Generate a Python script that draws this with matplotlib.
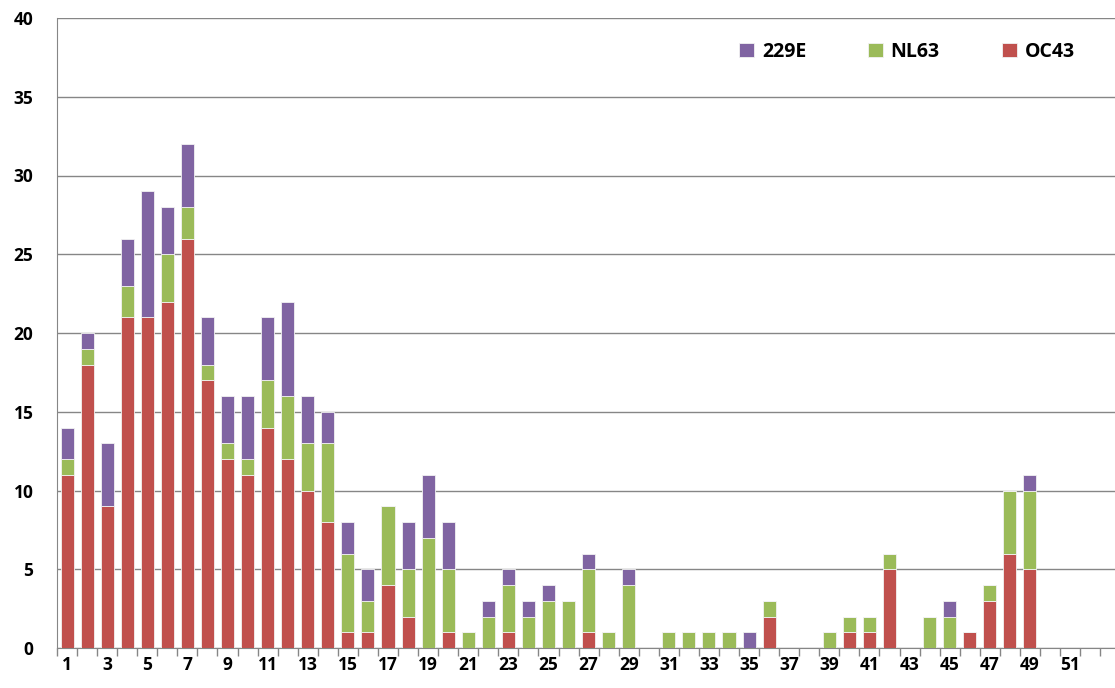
import matplotlib
matplotlib.use("Agg")
import matplotlib.pyplot as plt
import numpy as np
from matplotlib.ticker import FixedLocator

weeks = list(range(1, 54))
oc43 = [11, 18, 9, 21, 21, 22, 26, 17, 12, 11, 14, 12, 10, 8, 1, 1, 4, 2, 0, 1,
        0, 0, 1, 0, 0, 0, 1, 0, 0, 0, 0, 0, 0, 0, 0, 2, 0, 0, 0, 1,
        1, 5, 0, 0, 0, 1, 3, 6, 5, 0, 0, 0, 0]
nl63 = [1, 1, 0, 2, 0, 3, 2, 1, 1, 1, 3, 4, 3, 5, 5, 2, 5, 3, 7, 4,
        1, 2, 3, 2, 3, 3, 4, 1, 4, 0, 1, 1, 1, 1, 0, 1, 0, 0, 1, 1,
        1, 1, 0, 2, 2, 0, 1, 4, 5, 0, 0, 0, 0]
e229 = [2, 1, 4, 3, 8, 3, 4, 3, 3, 4, 4, 6, 3, 2, 2, 2, 0, 3, 4, 3,
        0, 1, 1, 1, 1, 0, 1, 0, 1, 0, 0, 0, 0, 0, 1, 0, 0, 0, 0, 0,
        0, 0, 0, 0, 1, 0, 0, 0, 1, 0, 0, 0, 0]
series_names = ["229E", "NL63", "OC43"]
tick_labels = [str(w) for w in range(1, 52, 2)]

c_red = "#C0504D"
c_green = "#9BBB59"
c_purple = "#8064A2"

plt.rcParams['font.family'] = ['Open Sans', 'DejaVu Sans']

W, H = 1115, 688
fig = plt.figure(figsize=(W / 100, H / 100), dpi=100)
ax = fig.add_axes([57 / W, 40 / H, 1 - 57 / W, (648 - 18) / H])

x = np.array(weeks)
oc = np.array(oc43)
nl = np.array(nl63)
pe = np.array(e229)
bw = 0.65
ek = dict(edgecolor="#f2f2f2", linewidth=0.6)
b_oc = ax.bar(x, oc, bw, color=c_red, label="OC43", zorder=3, **ek)
b_nl = ax.bar(x, nl, bw, bottom=oc, color=c_green, label="NL63", zorder=3, **ek)
b_pe = ax.bar(x, pe, bw, bottom=oc + nl, color=c_purple, label="229E", zorder=3, **ek)

ax.set_ylim(0, 40)
ax.set_xlim(0.5, 0.5 + (W - 57) / 20.06)
ax.set_yticks(range(0, 41, 5))
ax.yaxis.grid(True, color="#868686", linewidth=1.0, zorder=0)
ax.set_axisbelow(True)
ax.tick_params(axis='y', length=0, pad=17, labelsize=12.5)
for t in ax.get_yticklabels():
    t.set_fontweight('bold')

ax.set_xticks(range(1, 52, 2))
ax.set_xticklabels(tick_labels, fontsize=12.5, fontweight='bold')
ax.xaxis.set_minor_locator(FixedLocator(np.arange(0.5, 54, 1)))
ax.tick_params(axis='x', which='major', length=0, pad=6)
ax.tick_params(axis='x', which='minor', length=6, color="#868686", width=1)

for s in ['top', 'right']:
    ax.spines[s].set_visible(False)
ax.spines['left'].set_color("#868686")
ax.spines['bottom'].set_color("#868686")

leg = ax.legend(handles=[b_pe, b_nl, b_oc], labels=series_names, ncol=3,
                frameon=False, loc='center', bbox_to_anchor=(907 / W, 1 - 52 / H),
                bbox_transform=fig.transFigure, handlelength=0.75, handleheight=0.75,
                handletextpad=0.4, columnspacing=3.2,
                prop={'weight': 'bold', 'size': 14})

fig.savefig("out.png", dpi=100)
